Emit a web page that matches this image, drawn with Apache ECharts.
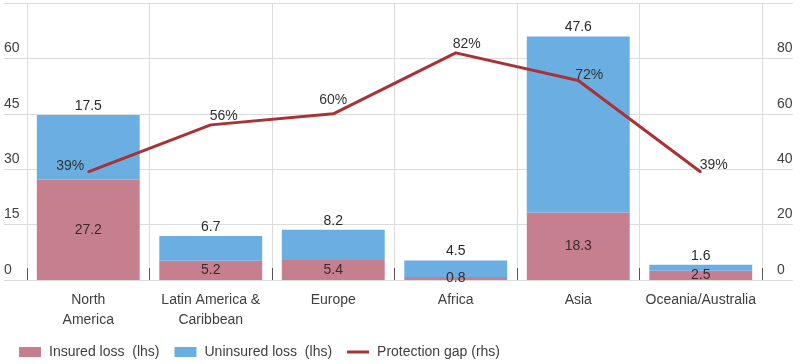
<!DOCTYPE html>
<html>
<head>
<meta charset="utf-8">
<script src="https://cdn.jsdelivr.net/npm/echarts@6/dist/echarts.min.js"></script>
<style>
  html, body { margin: 0; padding: 0; background: #fff; }
  #chart { width: 812px; height: 364px; }
</style>
</head>
<body>
<div id="chart"></div>
<script>
// Regional losses (USD bn) and protection gap (%)
const regions = ['North\nAmerica', 'Latin America &\nCaribbean', 'Europe', 'Africa', 'Asia', 'Oceania/Australia'];
const insuredLoss = [27.2, 5.2, 5.4, 0.8, 18.3, 2.5];
const uninsuredLoss = [17.5, 6.7, 8.2, 4.5, 47.6, 1.6];
const protectionGap = [39, 56, 60, 82, 72, 39];

const leftTicks = { min: 0, max: 75, interval: 15 };
const rightTicks = { min: 0, max: 100, interval: 20 };

// label offsets for the gap line, [dx, dy] from each point
const gapLabelOffsets = [[-18, -6], [13, -9], [0, -14], [11, -9], [11, -5], [13, -7]];

const FONT = 'Liberation Sans';
const TEXT = '#404040';
const GRIDLINE = '#dcdcdc';
const GAP_RED = '#a83236';
const GAP_SYMBOL = 2;

const chart = echarts.init(document.getElementById('chart'));

chart.setOption({
  animation: false,
  textStyle: { fontFamily: FONT },
  legend: {
    left: 14,
    top: 340,
    itemWidth: 22,
    itemHeight: 10,
    itemGap: 15,
    symbolKeepAspect: true,
    textStyle: { fontFamily: FONT, fontSize: 14, color: TEXT, padding: [0, 0, 0, 3] },
    data: [
      { name: 'Insured loss  (lhs)', icon: 'rect' },
      { name: 'Uninsured loss  (lhs)', icon: 'rect' },
      { name: 'Protection gap (rhs)', icon: 'path://M0,0L22,0L22,3L0,3Z', itemStyle: { color: GAP_RED } }
    ]
  },
  grid: [
    { left: 4, right: 19, top: 3, bottom: 84 },
    { left: 27, right: 50, top: 3, bottom: 84 }
  ],
  xAxis: [
    {
      gridIndex: 0, type: 'value', min: 0, max: 1,
      show: false
    },
    {
      gridIndex: 1, type: 'category', data: regions,
      axisLine: { show: false },
      axisTick: { show: true, inside: true, length: 12, lineStyle: { color: '#555', width: 1 } },
      splitLine: { show: true, lineStyle: { color: GRIDLINE, width: 1 } },
      axisLabel: { color: TEXT, fontSize: 14, fontFamily: FONT, margin: 10, lineHeight: 20, interval: 0 }
    }
  ],
  yAxis: [
    {
      gridIndex: 0, type: 'value', min: leftTicks.min, max: leftTicks.max, interval: leftTicks.interval,
      axisLine: { show: false }, axisTick: { show: false }, axisLabel: { show: false },
      splitLine: { show: true, lineStyle: { color: GRIDLINE, width: 1 } }
    },
    {
      gridIndex: 1, type: 'value', position: 'left',
      min: leftTicks.min, max: leftTicks.max, interval: leftTicks.interval,
      axisLine: { show: false }, axisTick: { show: false }, splitLine: { show: false },
      axisLabel: {
        color: TEXT, fontSize: 14, fontFamily: FONT, align: 'left', margin: 23,
        verticalAlign: 'bottom', padding: [0, 0, 3, 0], showMaxLabel: false
      }
    },
    {
      gridIndex: 1, type: 'value', position: 'right',
      min: rightTicks.min, max: rightTicks.max, interval: rightTicks.interval,
      axisLine: { show: false }, axisTick: { show: false }, splitLine: { show: false },
      axisLabel: {
        color: TEXT, fontSize: 14, fontFamily: FONT, align: 'left', margin: 15,
        verticalAlign: 'bottom', padding: [0, 0, 3, 0], showMaxLabel: false
      }
    }
  ],
  series: [
    {
      name: 'Insured loss  (lhs)', type: 'bar', stack: 'loss',
      xAxisIndex: 1, yAxisIndex: 1,
      barWidth: '84%',
      itemStyle: { color: '#c67f8f' },
      label: { show: true, position: 'inside', color: '#3a2a2e', fontSize: 14, fontFamily: FONT },
      data: insuredLoss
    },
    {
      name: 'Uninsured loss  (lhs)', type: 'bar', stack: 'loss',
      xAxisIndex: 1, yAxisIndex: 1,
      barWidth: '84%',
      itemStyle: { color: '#6aaee2' },
      label: { show: true, position: 'top', distance: 2, color: '#2a2a2a', fontSize: 14, fontFamily: FONT },
      data: uninsuredLoss
    },
    {
      name: 'Protection gap (rhs)', type: 'line',
      xAxisIndex: 1, yAxisIndex: 2,
      symbol: 'circle',
      symbolSize: GAP_SYMBOL,
      showSymbol: true,
      lineStyle: { color: GAP_RED, width: 3 },
      itemStyle: { color: GAP_RED },
      z: 5,
      labelLayout: { hideOverlap: false },
      data: protectionGap.map((v, i) => ({
        value: v,
        label: {
          show: true,
          // position relative to the symbol's top-left corner
          position: [gapLabelOffsets[i][0] + GAP_SYMBOL / 2, gapLabelOffsets[i][1] + GAP_SYMBOL / 2],
          align: 'center', verticalAlign: 'middle',
          formatter: '{c}%', color: '#333', fontSize: 14, fontFamily: FONT
        }
      }))
    }
  ]
});
</script>
</body>
</html>
